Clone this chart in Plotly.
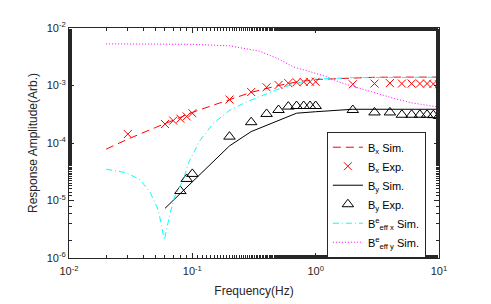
import plotly.graph_objects as go

# ---- data ----
f_bx_sim = [0.02, 0.03, 0.05, 0.07, 0.1, 0.15, 0.2, 0.3, 0.5, 0.7, 1, 2, 3, 5, 10]
bx_sim = [7.8e-5, 1.17e-4, 1.85e-4, 2.45e-4, 3.4e-4, 4.6e-4, 5.7e-4, 7.6e-4, 1.0e-3, 1.15e-3, 1.27e-3, 1.37e-3, 1.39e-3, 1.4e-3, 1.4e-3]

f_bx_exp = [0.03, 0.06, 0.07, 0.08, 0.09, 0.1, 0.2, 0.3, 0.4, 0.5, 0.6, 0.7, 0.8, 0.9, 1.0,
            2, 3, 4, 5, 6, 7, 8, 9, 10]
bx_exp = [1.43e-4, 2.14e-4, 2.45e-4, 2.65e-4, 2.9e-4, 3.3e-4, 5.7e-4, 7.7e-4, 9.3e-4, 1.02e-3, 1.1e-3, 1.14e-3, 1.15e-3, 1.16e-3, 1.16e-3,
          1.05e-3, 1.08e-3, 1.1e-3, 1.08e-3, 1.08e-3, 1.08e-3, 1.08e-3, 1.06e-3, 1.05e-3]

f_by_sim = [0.06, 0.126, 0.2, 0.3, 0.7, 1.0, 2, 10]
by_sim = [7.3e-6, 3.4e-5, 8.9e-5, 1.58e-4, 3.3e-4, 3.5e-4, 3.86e-4, 3.86e-4]

f_by_exp = [0.08, 0.09, 0.1, 0.2, 0.3, 0.4, 0.5, 0.6, 0.7, 0.8, 0.9, 1.0,
            2, 3, 4, 5, 6, 7, 8, 9, 10]
by_exp = [1.46e-5, 2.37e-5, 2.9e-5, 1.29e-4, 2.3e-4, 3.2e-4, 3.75e-4, 4.3e-4, 4.4e-4, 4.4e-4, 4.4e-4, 4.4e-4,
          3.75e-4, 3.4e-4, 3.4e-4, 3.1e-4, 3.1e-4, 3.1e-4, 3.1e-4, 3.05e-4, 2.95e-4]

f_beffx = [0.02, 0.029, 0.0377, 0.0454, 0.053, 0.0593, 0.066, 0.072, 0.0846, 0.093, 0.115, 0.148,
           0.202, 0.276, 0.377, 0.514, 0.7, 1.0, 2, 5, 10]
beffx = [3.5e-5, 3.05e-5, 2.3e-5, 1.4e-5, 6.8e-6, 2.06e-6, 6.0e-6, 1.17e-5, 2.3e-5, 4.5e-5, 1.1e-4, 2.2e-4,
         3.75e-4, 5.2e-4, 6.8e-4, 8.9e-4, 1.1e-3, 1.29e-3, 1.37e-3, 1.39e-3, 1.39e-3]

f_beffy = [0.02, 0.05, 0.1, 0.2, 0.35, 0.5, 0.66, 0.9, 1.23, 1.6, 2.29, 3, 4.27, 6, 10]
beffy = [5.3e-3, 5.3e-3, 5.2e-3, 4.9e-3, 3.95e-3, 2.9e-3, 2.1e-3, 1.74e-3, 1.42e-3, 1.12e-3, 8.9e-4, 7.4e-4, 6.0e-4, 5.0e-4, 4.2e-4]

x_tickvals = [0.01, 0.1, 1, 10]
x_ticktext = ["10<sup>-2</sup>", "10<sup>-1</sup>", "10<sup>0</sup>", "10<sup>1</sup>"]
y_tickvals = [1e-6, 1e-5, 1e-4, 1e-3, 1e-2]
y_ticktext = ["10<sup>-6</sup>", "10<sup>-5</sup>", "10<sup>-4</sup>", "10<sup>-3</sup>", "10<sup>-2</sup>"]

fig = go.Figure()
fig.add_trace(go.Scatter(x=f_bx_sim, y=bx_sim, mode="lines", name="B<sub>x</sub> Sim.",
                         line=dict(color="#ff0000", width=1, dash="8px,5px")))
fig.add_trace(go.Scatter(x=f_bx_exp, y=bx_exp, mode="markers", name="B<sub>x</sub> Exp.",
                         marker=dict(symbol="x-thin-open", size=8, color="#ff0000",
                                     line=dict(color="#ff0000", width=1))))
fig.add_trace(go.Scatter(x=f_by_sim, y=by_sim, mode="lines", name="B<sub>y</sub> Sim.",
                         line=dict(color="#000000", width=1)))
fig.add_trace(go.Scatter(x=f_by_exp, y=by_exp, mode="markers", name="B<sub>y</sub> Exp.",
                         marker=dict(symbol="triangle-up-open", size=10, color="#000000",
                                     line=dict(color="#000000", width=1))))
fig.add_trace(go.Scatter(x=f_beffx, y=beffx, mode="lines", name="B<sup>e</sup><sub>eff x</sub> Sim.",
                         line=dict(color="#00ffff", width=1, dash="6px,3px,1px,3px")))
fig.add_trace(go.Scatter(x=f_beffy, y=beffy, mode="lines", name="B<sup>e</sup><sub>eff y</sub> Sim.",
                         line=dict(color="#ff00ff", width=1, dash="1px,2px")))

axis_common = dict(
    showline=True, linecolor="#262626", linewidth=1, mirror="ticks",
    ticks="inside", ticklen=5, tickcolor="#262626", showgrid=False, zeroline=False,
    tickfont=dict(size=11, color="#262626"), automargin=False,
    minor=dict(ticks="inside", ticklen=3, tickcolor="#262626", showgrid=False),
)
fig.update_xaxes(type="log", range=[-2, 1], tickvals=x_tickvals, ticktext=x_ticktext,
                 ticklabelstandoff=3,
                 title=dict(text="Frequency(Hz)", font=dict(size=12, color="#262626"), standoff=10),
                 **axis_common)
fig.update_yaxes(type="log", range=[-6, -2], tickvals=y_tickvals, ticktext=y_ticktext,
                 title=dict(text="Response Amplitude(Arb.)", font=dict(size=12, color="#262626"), standoff=6),
                 **axis_common)

fig.update_layout(
    width=491, height=304,
    margin=dict(l=69, r=52, t=28, b=46),
    paper_bgcolor="white", plot_bgcolor="white",
    font=dict(family="Liberation Sans, Arial, sans-serif", color="#262626"),
    legend=dict(x=0.697, y=0.549, xanchor="left", yanchor="top",
                bgcolor="white", bordercolor="#262626", borderwidth=1,
                font=dict(size=11, color="#000000"), tracegroupgap=0,
                itemwidth=30),
    showlegend=True,
)

fig.write_html("out.html", config={"displayModeBar": False},
               post_script="document.body.style.margin='0';document.body.style.padding='0';")
